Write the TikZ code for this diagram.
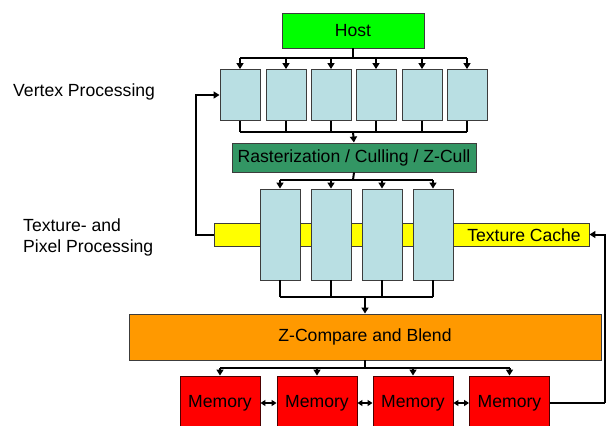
\documentclass[tikz,border=0pt]{standalone}
\usepackage{fontspec}
\setmainfont{Liberation Sans}
\usetikzlibrary{arrows.meta}
\definecolor{hostgreen}{RGB}{0,255,0}
\definecolor{rastgreen}{RGB}{51,150,100}
\definecolor{unitblue}{RGB}{185,223,227}
\definecolor{cacheyellow}{RGB}{255,255,0}
\definecolor{zorange}{RGB}{255,153,0}
\definecolor{memred}{RGB}{255,0,0}
\definecolor{edgegray}{RGB}{60,60,60}
\tikzset{
  every node/.style={font=\fontsize{17.6}{21}\selectfont, inner sep=0pt},
  blk/.style={draw=edgegray, line width=0.9pt, anchor=center},
  unit/.style={blk, fill=unitblue, minimum width=40pt},
  vunit/.style={unit, minimum height=51pt},
  punit/.style={unit, minimum height=91pt},
  mem/.style={blk, fill=memred, draw=black!70!red, minimum width=80pt, minimum height=54pt},
  wire/.style={line width=2pt, black},
  arr/.style={wire, -{Triangle[length=6pt,width=7pt]}},
  darr/.style={line width=1.6pt, {Triangle[length=5pt,width=6pt]}-{Triangle[length=5pt,width=6pt]}},
}
\begin{document}
\begin{tikzpicture}[x=1pt,y=-1pt]
\clip (0,0) rectangle (606,426);
\fill[white] (0,0) rectangle (606,426);

% labels
\node[anchor=west] (lv) at (13,92) {Vertex Processing};
\node[anchor=west, align=left] (lp) at (23,237.5) {Texture- and\\Pixel Processing};

% host
\node[blk, fill=hostgreen, minimum width=142pt, minimum height=35pt] (host) at (353,30.5) {Host};

% vertex units
\foreach \i/\x in {1/240,2/286,3/331,4/376,5/422,6/467}
  \node[vunit] (v\i) at (\x,95) {};

% rasterization
\node[blk, fill=rastgreen, minimum width=244pt, minimum height=29pt] (rast) at (354,157.5) {Rasterization / Culling / Z-Cull};

% texture cache (behind pixel units)
\node[blk, fill=cacheyellow, minimum width=375pt, minimum height=23pt] (tex) at (401.5,234.5) {};
\node[anchor=east] (texl) at (581,235) {Texture Cache};

% pixel units
\foreach \i/\x in {1/280,2/331,3/382,4/433}
  \node[punit] (p\i) at (\x,234.5) {};

% z-compare
\node[blk, fill=zorange, minimum width=472pt, minimum height=46pt] (zc) at (365,337) {Z-Compare and Blend};

% memories
\foreach \i/\x in {1/220,2/317,3/413,4/509.5}
  \node[mem] (m\i) at (\x,403) {Memory};

% bus coordinates
\coordinate (b1) at (353,58);
\coordinate (b2) at (353,132);
\coordinate (b3) at (353,180);
\coordinate (b4) at (365,296.5);
\coordinate (b5) at (365,368);
\coordinate (rr) at (604.5,403);

% host -> vertex
\draw[wire] (host.south) -- (b1);
\draw[wire] (v1.north |- b1) -- (v6.north |- b1);
\foreach \i in {1,...,6}
  \draw[arr] (v\i.north |- b1) -- (v\i.north);

% vertex -> rasterization
\foreach \i in {1,...,6}
  \draw[wire] (v\i.south) -- (v\i.south |- b2);
\draw[wire] (v1.south |- b2) -- (v6.south |- b2);
\draw[arr] (b2) -- (rast.north);

% rasterization -> pixel
\draw[wire] (rast.south) -- (b3);
\draw[wire] (p1.north |- b3) -- (p4.north |- b3);
\foreach \i in {1,...,4}
  \draw[arr] (p\i.north |- b3) -- (p\i.north);

% pixel -> z-compare
\foreach \i in {1,...,4}
  \draw[wire] (p\i.south) -- (p\i.south |- b4);
\draw[wire] (p1.south |- b4) -- (p4.south |- b4);
\draw[arr] (b4) -- (b4 |- zc.north);

% z-compare -> memory
\draw[wire] (zc.south -| b5) -- (b5);
\draw[wire] (m1.north |- b5) -- (m4.north |- b5);
\foreach \i in {1,...,4}
  \draw[arr] (m\i.north |- b5) -- (m\i.north);

% memory <-> memory
\draw[darr] (m1.east) -- (m2.west);
\draw[darr] (m2.east) -- (m3.west);
\draw[darr] (m3.east) -- (m4.west);

% feedback: texture cache -> vertex units
\draw[arr] (tex.west) -- ++(-18,0) |- (v1.west);

% memory -> texture cache
\draw[wire] (m4.east) -- (rr);
\draw[arr] (rr) |- (tex.east);
\end{tikzpicture}
\end{document}
